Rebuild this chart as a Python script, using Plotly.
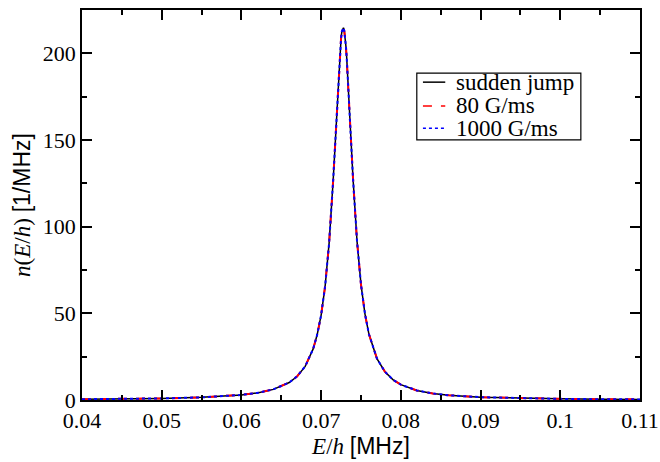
import plotly.graph_objects as go

energy = [0.04, 0.045, 0.05, 0.055, 0.06, 0.062, 0.064, 0.066, 0.067, 0.068, 0.069,
          0.0695, 0.070, 0.0705, 0.071, 0.0715, 0.0718, 0.072, 0.0721, 0.0722, 0.0723,
          0.0724, 0.0725, 0.0726, 0.0727, 0.0728, 0.0729, 0.0730, 0.0731, 0.0732,
          0.0733, 0.0734, 0.0735, 0.0736, 0.0738, 0.074, 0.0745, 0.075, 0.0755, 0.076,
          0.077, 0.078, 0.079, 0.080, 0.082, 0.084, 0.086, 0.09, 0.095, 0.10, 0.105, 0.11]

sudden_jump = [0.45, 0.63, 0.93, 1.52, 2.93, 4.10, 6.13, 10.1, 13.7, 19.4, 29.5,
               37.6, 49.0, 65.7, 90.5, 126.1, 152.5, 171.1, 180.1, 188.7, 196.5,
               203.3, 208.7, 212.6, 214.7, 214.8, 213.1, 209.6, 204.5, 198.0,
               190.3, 181.9, 172.9, 163.7, 145.2, 127.7, 91.7, 66.6, 49.6, 37.9,
               23.9, 16.3, 11.75, 8.85, 5.53, 3.77, 2.72, 1.62, 0.97, 0.65, 0.46, 0.35]
ramp_80 = [0.45, 0.63, 0.93, 1.52, 2.93, 4.10, 6.13, 10.1, 13.7, 19.4, 29.5,
           37.6, 49.0, 65.7, 90.5, 126.1, 152.5, 171.1, 180.1, 188.7, 196.5,
           203.3, 208.7, 212.6, 214.7, 214.8, 213.1, 209.6, 204.5, 198.0,
           190.3, 181.9, 172.9, 163.7, 145.2, 127.7, 91.7, 66.6, 49.6, 37.9,
           23.9, 16.3, 11.75, 8.85, 5.53, 3.77, 2.72, 1.62, 0.97, 0.65, 0.46, 0.35]
ramp_1000 = [0.45, 0.63, 0.93, 1.52, 2.93, 4.10, 6.13, 10.1, 13.7, 19.4, 29.5,
             37.6, 49.0, 65.7, 90.5, 126.1, 152.5, 171.1, 180.1, 188.7, 196.5,
             203.3, 208.7, 212.6, 214.7, 214.8, 213.1, 209.6, 204.5, 198.0,
             190.3, 181.9, 172.9, 163.7, 145.2, 127.7, 91.7, 66.6, 49.6, 37.9,
             23.9, 16.3, 11.75, 8.85, 5.53, 3.77, 2.72, 1.62, 0.97, 0.65, 0.46, 0.35]

series_names = ["sudden jump", "80 G/ms", "1000 G/ms"]
x_ticks = [0.04, 0.05, 0.06, 0.07, 0.08, 0.09, 0.1, 0.11]
x_tick_labels = ["0.04", "0.05", "0.06", "0.07", "0.08", "0.09", "0.1", "0.11"]
y_ticks = [0, 50, 100, 150, 200]

serif = "Liberation Serif"
sans = "Liberation Sans"

styles = [dict(color="black", width=1.5, dash="solid"),
          dict(color="#ff0000", width=2, dash="dash"),
          dict(color="#0000ff", width=2, dash="dot")]

fig = go.Figure()
for name, vals, st in zip(series_names, [sudden_jump, ramp_80, ramp_1000], styles):
    fig.add_trace(go.Scatter(x=energy, y=vals, mode="lines", name=name,
                             line=st, showlegend=False))

axis_common = dict(showgrid=False, zeroline=False, showline=True, linecolor="black",
                   linewidth=1.5, mirror="allticks", ticks="inside", ticklen=10,
                   tickwidth=1.5, tickcolor="black", automargin=False,
                   tickfont=dict(family=serif, size=22, color="black"))

# legend box drawn in paper coordinates
shapes = [dict(type="rect", xref="paper", yref="paper", x0=0.600, x1=0.894,
               y0=0.667, y1=0.838, line=dict(color="black", width=1.2),
               fillcolor="white", layer="above")]
annotations = []
row_y = [0.815, 0.754, 0.697]
for name, st, yy in zip(series_names, styles, row_y):
    shapes.append(dict(type="line", xref="paper", yref="paper", x0=0.611, x1=0.651,
                       y0=yy, y1=yy, layer="above",
                       line=dict(color=st["color"], width=1.5, dash=st["dash"])))
    annotations.append(dict(xref="paper", yref="paper", x=0.666, y=yy,
                            xanchor="left", yanchor="middle", text=name, showarrow=False,
                            font=dict(family=serif, size=23, color="black")))

fig.update_layout(
    width=660, height=462,
    margin=dict(l=82, r=20, t=10, b=62),
    plot_bgcolor="white", paper_bgcolor="white",
    xaxis=dict(range=[0.04, 0.11], tickvals=x_ticks, ticktext=x_tick_labels,
               minor=dict(dtick=0.005, tick0=0.04, ticks="inside", ticklen=5,
                          tickwidth=1.5, tickcolor="black"),
               title=dict(text=f"<i>E</i>/<i>h</i> <span style='font-family:{sans}'>[MHz]</span>",
                          font=dict(family=serif, size=23, color="black"), standoff=6),
               **axis_common),
    yaxis=dict(range=[0, 225], tickvals=y_ticks,
               minor=dict(dtick=25, tick0=0, ticks="inside", ticklen=5,
                          tickwidth=1.5, tickcolor="black"),
               title=dict(text=f"<i>n</i>(<i>E</i>/<i>h</i>) <span style='font-family:{sans}'>[1/MHz]</span>",
                          font=dict(family=serif, size=23, color="black"), standoff=6),
               **axis_common),
    shapes=shapes,
    annotations=annotations,
    showlegend=False,
)

# remove the default 8px page margin so the figure sits at the window's corner
fig.write_html("out.html", config={"displayModeBar": False},
               post_script="document.body.style.margin='0';document.body.style.overflow='hidden';")
